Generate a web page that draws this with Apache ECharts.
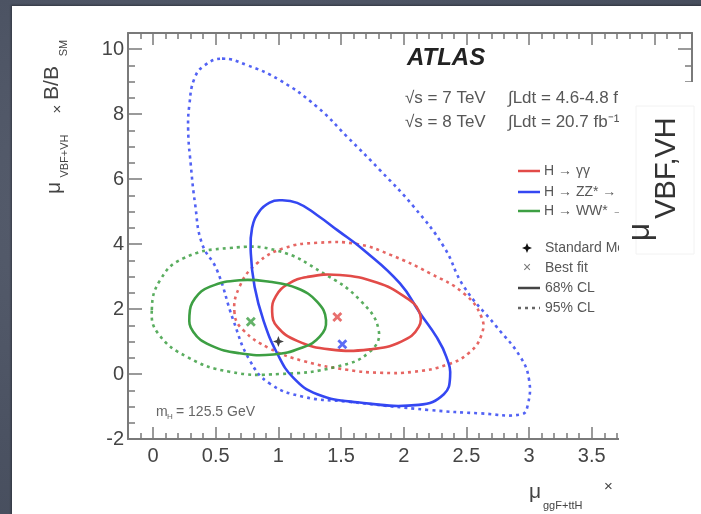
<!DOCTYPE html>
<html>
<head>
<meta charset="utf-8">
<script src="https://cdn.jsdelivr.net/npm/echarts@6/dist/echarts.min.js"></script>
<style>
  html, body { margin: 0; padding: 0; }
  body {
    width: 701px; height: 514px; overflow: hidden; position: relative;
    background: radial-gradient(ellipse at 30% 40%, #5a6171 0%, #4b5262 60%, #444b5a 100%);
  }
  #panel { position: absolute; left: 12px; top: 6px; width: 700px; height: 520px; background: #fff;
    box-shadow: -1px -1px 2px rgba(0,0,0,0.35); }
  #chart { position: absolute; left: 0; top: 0; width: 701px; height: 514px; }
</style>
</head>
<body>
<div id="panel"></div>
<div id="chart"></div>
<script>
// closed contours, points [mu_ggF+ttH, mu_VBF+VH]
const gammaSolid = [[0.95,1.92],[0.98,2.40],[1.08,2.78],[1.23,2.99],[1.49,3.05],[1.785,2.82],[2.0,2.40],[2.12,1.95],[2.12,1.45],[1.98,1.0],[1.73,0.76],[1.41,0.76],[1.15,1.02],[0.99,1.46]];
const gammaDotted = [[0.65,1.87],[0.69,2.69],[0.83,3.41],[1.04,3.87],[1.31,4.04],[1.63,4.0],[1.90,3.66],[2.21,3.10],[2.48,2.48],[2.62,1.76],[2.62,1.20],[2.52,0.65],[2.34,0.28],[2.08,0.07],[1.81,0.04],[1.55,0.13],[1.2,0.40],[0.93,0.79],[0.72,1.35]];
const zzSolid = [[1.01,5.35],[1.15,5.27],[1.31,4.89],[1.47,4.43],[1.68,3.82],[1.97,2.79],[2.13,1.87],[2.26,1.15],[2.34,0.53],[2.37,-0.08],[2.32,-0.62],[2.12,-0.95],[1.63,-0.87],[1.31,-0.62],[1.12,-0.12],[0.99,0.64],[0.88,1.66],[0.81,2.69],[0.78,3.71],[0.79,4.5],[0.85,5.02],[0.93,5.28]];
const zzDotted = [[0.55,9.71],[0.75,9.51],[1.01,9.05],[1.31,8.22],[1.55,7.30],[1.81,6.28],[2.08,5.15],[2.32,3.92],[2.48,2.69],[2.74,1.46],[2.93,0.53],[3.0,-0.18],[2.99,-0.95],[2.94,-1.24],[2.61,-1.21],[2.21,-1.11],[1.55,-0.85],[1.20,-0.70],[0.93,-0.29],[0.77,0.43],[0.64,1.66],[0.51,3.2],[0.39,4.02],[0.335,5.25],[0.30,6.48],[0.28,7.51],[0.29,8.30],[0.33,9.10],[0.41,9.50]];
const wwSolid = [[0.29,1.80],[0.335,2.33],[0.455,2.69],[0.69,2.89],[0.93,2.84],[1.15,2.64],[1.31,2.22],[1.38,1.66],[1.33,1.15],[1.18,0.80],[0.96,0.60],[0.69,0.64],[0.455,0.89],[0.32,1.30]];
const wwDotted = [[-0.01,1.97],[0.056,2.89],[0.24,3.56],[0.61,3.88],[0.99,3.80],[1.36,3.10],[1.65,2.28],[1.80,1.35],[1.73,0.69],[1.47,0.23],[1.01,0.0],[0.61,0.07],[0.27,0.53],[0.04,1.25]];

const bestFitGamma = [1.47, 1.76];
const bestFitZZ = [1.51, 0.92];
const bestFitWW = [0.78, 1.61];
const standardModel = [1, 1];

const xMajorTicks = [0, 0.5, 1, 1.5, 2, 2.5, 3, 3.5, 4];
const xTickLabels = [0, 0.5, 1, 1.5, 2, 2.5, 3, 3.5];
const yMajorTicks = [-2, 0, 2, 4, 6, 8, 10];

const xMinorTicks = [];
for (let i = -2; i <= 43; i++) xMinorTicks.push(i / 10);
const yMinorTicks = [];
for (let i = -4; i <= 21; i++) yMinorTicks.push(i / 2);

const RED = '#e24b48', BLUE = '#3447f2', GREEN = '#3d9f43';
const FONT = '"Liberation Sans", Arial, sans-serif';
const AXIS_COLOR = '#7a7a7a';
const dotted = [3, 4];

const crossSym = 'path://M0,2 L2,0 L5,3 L8,0 L10,2 L7,5 L10,8 L8,10 L5,7 L2,10 L0,8 L3,5 Z';
const starSym = 'path://M5,0 L6.4,3.6 L10,5 L6.4,6.4 L5,10 L3.6,6.4 L0,5 L3.6,3.6 Z';

const chart = echarts.init(document.getElementById('chart'), null, { renderer: 'canvas' });

function xAx(position, ticks, len, withLine, labels) {
  return {
    type: 'value', position: position, min: -0.2, max: 4.3,
    splitLine: { show: false },
    axisLine: { show: withLine, onZero: false, lineStyle: { color: AXIS_COLOR, width: 2 } },
    axisTick: { show: true, inside: true, length: len, customValues: ticks, lineStyle: { color: AXIS_COLOR, width: 1.5 } },
    axisLabel: labels ? { show: true, customValues: labels, fontSize: 20, color: '#454545', fontFamily: FONT, margin: 7 } : { show: false }
  };
}
function yAx(position, ticks, len, withLine, labels) {
  return {
    type: 'value', position: position, min: -2, max: 10.5,
    splitLine: { show: false },
    axisLine: { show: withLine, onZero: false, lineStyle: { color: AXIS_COLOR, width: 2 } },
    axisTick: { show: true, inside: true, length: len, customValues: ticks, lineStyle: { color: AXIS_COLOR, width: 1.5 } },
    axisLabel: labels ? { show: true, customValues: labels, fontSize: 20, color: '#454545', fontFamily: FONT, margin: 4 } : { show: false }
  };
}

// closed smooth curve through the contour points, placed with the axes' scales
function contour(data, color, isDotted) {
  return {
    type: 'custom', data: data, xAxisIndex: 0, yAxisIndex: 0, silent: true,
    encode: { x: 0, y: 1 },
    renderItem: function (params, api) {
      if (params.dataIndex !== 0) return null;
      const pts = data.map(function (p) { return api.coord(p); });
      return {
        type: 'polygon',
        shape: { points: pts, smooth: 0.45 },
        style: { fill: 'none', stroke: color, lineWidth: 2.6, lineDash: isDotted ? dotted : null, opacity: isDotted ? 0.85 : 1 }
      };
    }
  };
}
function marker(point, color, sym, size) {
  return {
    type: 'scatter', data: [point], symbol: sym, symbolSize: size, xAxisIndex: 0, yAxisIndex: 0,
    itemStyle: { color: color }, z: 5, silent: true
  };
}

const txtGray = '#575757';
const graphic = [
  { type: 'text', x: 407, y: 58, style: { text: 'ATLAS', font: 'italic bold 24px ' + FONT, fill: '#222', verticalAlign: 'middle' } },
  { type: 'text', x: 405, y: 98, style: { text: '√s = 7 TeV', font: '17px ' + FONT, fill: txtGray, verticalAlign: 'middle' } },
  { type: 'text', x: 508, y: 98, style: { text: '∫Ldt = 4.6-4.8 fb⁻¹', font: '17px ' + FONT, fill: txtGray, verticalAlign: 'middle' } },
  { type: 'text', x: 405, y: 122, style: { text: '√s = 8 TeV', font: '17px ' + FONT, fill: txtGray, verticalAlign: 'middle' } },
  { type: 'text', x: 508, y: 122, style: { text: '∫Ldt = 20.7 fb⁻¹', font: '17px ' + FONT, fill: txtGray, verticalAlign: 'middle' } },

  // legend
  { type: 'line', shape: { x1: 518, y1: 171, x2: 540, y2: 171 }, style: { stroke: RED, lineWidth: 2.5 } },
  { type: 'text', x: 544, y: 171, style: { text: 'H → γγ', font: '14px ' + FONT, fill: txtGray, verticalAlign: 'middle' } },
  { type: 'line', shape: { x1: 518, y1: 192, x2: 540, y2: 192 }, style: { stroke: BLUE, lineWidth: 2.5 } },
  { type: 'text', x: 544, y: 192, style: { text: 'H → ZZ* → 4l', font: '14px ' + FONT, fill: txtGray, verticalAlign: 'middle' } },
  { type: 'line', shape: { x1: 518, y1: 211, x2: 540, y2: 211 }, style: { stroke: GREEN, lineWidth: 2.5 } },
  { type: 'text', x: 544, y: 211, style: { text: 'H → WW* → lνlν', font: '14px ' + FONT, fill: txtGray, verticalAlign: 'middle' } },
  { type: 'polygon', shape: { points: [[527,243],[528.4,246.6],[532,248],[528.4,249.4],[527,253],[525.6,249.4],[522,248],[525.6,246.6]] }, style: { fill: '#111' } },
  { type: 'text', x: 545, y: 248, style: { text: 'Standard Model', font: '14px ' + FONT, fill: txtGray, verticalAlign: 'middle' } },
  { type: 'text', x: 527, y: 268, style: { text: '×', font: '14px ' + FONT, fill: '#777', align: 'center', verticalAlign: 'middle' } },
  { type: 'text', x: 545, y: 268, style: { text: 'Best fit', font: '14px ' + FONT, fill: txtGray, verticalAlign: 'middle' } },
  { type: 'line', shape: { x1: 518, y1: 288, x2: 540, y2: 288 }, style: { stroke: '#444', lineWidth: 2.5 } },
  { type: 'text', x: 545, y: 288, style: { text: '68% CL', font: '14px ' + FONT, fill: txtGray, verticalAlign: 'middle' } },
  { type: 'line', shape: { x1: 518, y1: 308, x2: 540, y2: 308 }, style: { stroke: '#666', lineWidth: 2.5, lineDash: dotted } },
  { type: 'text', x: 545, y: 308, style: { text: '95% CL', font: '14px ' + FONT, fill: txtGray, verticalAlign: 'middle' } },

  // m_H
  { type: 'text', x: 156, y: 412, style: { text: 'm', font: '14px ' + FONT, fill: '#666', verticalAlign: 'middle' } },
  { type: 'text', x: 167, y: 417, style: { text: 'H', font: '8px ' + FONT, fill: '#666', verticalAlign: 'middle' } },
  { type: 'text', x: 176, y: 412, style: { text: '= 125.5 GeV', font: '14px ' + FONT, fill: '#666', verticalAlign: 'middle' } },

  // y title (rotated)
  { type: 'text', x: 54, y: 188, rotation: Math.PI / 2, style: { text: 'μ', font: '21px ' + FONT, fill: '#444', align: 'center', verticalAlign: 'middle' } },
  { type: 'text', x: 65, y: 156, rotation: Math.PI / 2, style: { text: 'VBF+VH', font: '11px ' + FONT, fill: '#444', align: 'center', verticalAlign: 'middle' } },
  { type: 'text', x: 58, y: 109, rotation: Math.PI / 2, style: { text: '×', font: '15px ' + FONT, fill: '#444', align: 'center', verticalAlign: 'middle' } },
  { type: 'text', x: 52, y: 83, rotation: Math.PI / 2, style: { text: 'B/B', font: '21px ' + FONT, fill: '#444', align: 'center', verticalAlign: 'middle' } },
  { type: 'text', x: 64, y: 48, rotation: Math.PI / 2, style: { text: 'SM', font: '11px ' + FONT, fill: '#444', align: 'center', verticalAlign: 'middle' } },

  // x title
  { type: 'text', x: 535, y: 492, style: { text: 'μ', font: '21px ' + FONT, fill: '#444', align: 'center', verticalAlign: 'middle' } },
  { type: 'text', x: 543, y: 506, style: { text: 'ggF+ttH', font: '11px ' + FONT, fill: '#444', verticalAlign: 'middle' } },
  { type: 'text', x: 604, y: 487, style: { text: '×', font: '15px ' + FONT, fill: '#444', verticalAlign: 'middle' } },

  // white sheet covering the right part of the plot
  { type: 'rect', z: 100, shape: { x: 619, y: 82, width: 82, height: 432 }, style: { fill: '#fff' } },
  { type: 'rect', z: 101, shape: { x: 636, y: 106, width: 58, height: 148 }, style: { fill: '#fff', stroke: '#f2f2f2', lineWidth: 1 } },
  { type: 'text', z: 102, x: 640, y: 232, rotation: Math.PI / 2, style: { text: 'μ', font: '32px ' + FONT, fill: '#333', align: 'center', verticalAlign: 'middle' } },
  { type: 'text', z: 102, x: 667, y: 168, rotation: Math.PI / 2, style: { text: 'VBF,VH', font: '29px ' + FONT, fill: '#333', align: 'center', verticalAlign: 'middle' } }
];

const option = {
  backgroundColor: 'transparent',
  animation: false,
  grid: { left: 128, right: 9, top: 33, bottom: 75, containLabel: false },
  xAxis: [
    xAx('bottom', xMajorTicks, 12, true, xTickLabels),
    xAx('bottom', xMinorTicks, 6, false, null),
    xAx('top', xMajorTicks, 12, true, null),
    xAx('top', xMinorTicks, 6, false, null)
  ],
  yAxis: [
    yAx('left', yMajorTicks, 14, true, yMajorTicks),
    yAx('left', yMinorTicks, 7, false, null),
    yAx('right', yMajorTicks, 14, true, null),
    yAx('right', yMinorTicks, 7, false, null)
  ],
  series: [
    contour(zzDotted, BLUE, true),
    contour(gammaDotted, RED, true),
    contour(wwDotted, GREEN, true),
    contour(zzSolid, BLUE, false),
    contour(gammaSolid, RED, false),
    contour(wwSolid, GREEN, false),
    marker(bestFitGamma, RED, crossSym, 10),
    marker(bestFitZZ, BLUE, crossSym, 10),
    marker(bestFitWW, GREEN, crossSym, 10),
    marker(standardModel, '#111', starSym, 11)
  ],
  graphic: graphic
};

chart.setOption(option);
</script>
</body>
</html>
